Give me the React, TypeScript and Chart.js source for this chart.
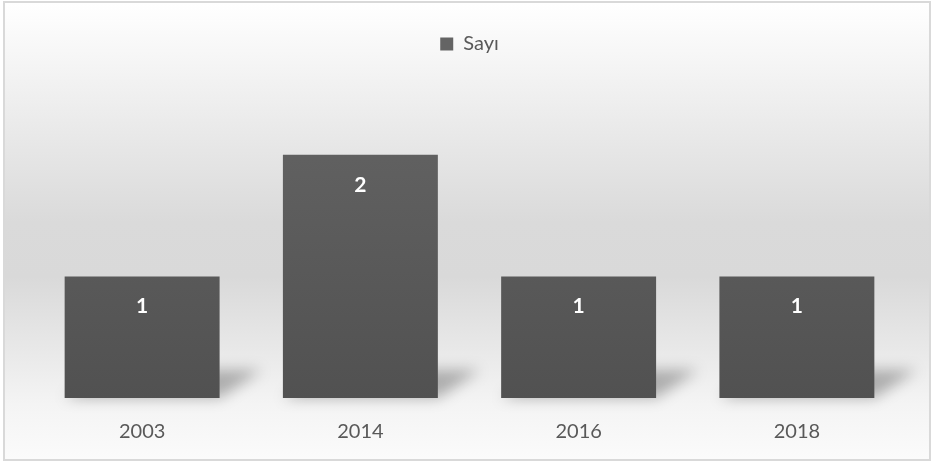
import React, { useEffect, useRef } from "react";
import { Chart, registerables } from "chart.js";

Chart.register(...registerables);

const categories = ["2003", "2014", "2016", "2018"];
const seriesName = "Sayı";
const values = [1, 2, 1, 1];

const FONT = "Lato, 'Open Sans', sans-serif";

const backgroundPlugin = {
  id: "bgPlugin",
  beforeDraw(chart: any) {
    const { ctx, width, height } = chart;
    ctx.save();
    const g = ctx.createLinearGradient(0, 3, 0, height - 3);
    g.addColorStop(0, "#ffffff");
    g.addColorStop(0.48, "#dadada");
    g.addColorStop(0.6, "#d9d9d9");
    g.addColorStop(0.88, "#f4f4f4");
    g.addColorStop(1, "#fbfbfb");
    ctx.fillStyle = g;
    ctx.fillRect(4, 3, width - 6, height - 6);
    ctx.strokeStyle = "#d9d9d9";
    ctx.lineWidth = 2;
    ctx.strokeRect(4, 2, width - 5, height - 4);
    ctx.restore();
  },
};

const legendGapPlugin = {
  id: "legendGap",
  beforeUpdate(chart: any) {
    const lg = chart.legend;
    if (lg && !lg.__patched) {
      const orig = lg.fit;
      lg.fit = function () {
        orig.call(this);
        this.height += 30;
      };
      lg.__patched = true;
    }
  },
};

const shadowPlugin = {
  id: "barShadow",
  beforeDatasetsDraw(chart: any) {
    const { ctx } = chart;
    const meta = chart.getDatasetMeta(0);
    ctx.save();
    ctx.filter = "blur(7px)";
    ctx.fillStyle = "rgba(0,0,0,0.28)";
    meta.data.forEach((bar: any) => {
      const half = bar.width / 2;
      const l = bar.x - half;
      const r = bar.x + half;
      const b = bar.base;
      ctx.beginPath();
      ctx.moveTo(l, b);
      ctx.lineTo(r, b);
      ctx.lineTo(r + 42, b - 28);
      ctx.lineTo(l + 42, b - 28);
      ctx.closePath();
      ctx.fill();
    });
    ctx.restore();
  },
};

const labelPlugin = {
  id: "dataLabels",
  afterDatasetsDraw(chart: any) {
    const { ctx } = chart;
    const meta = chart.getDatasetMeta(0);
    ctx.save();
    ctx.fillStyle = "#ffffff";
    ctx.font = `bold 21px ${FONT}`;
    ctx.textAlign = "center";
    ctx.textBaseline = "middle";
    meta.data.forEach((bar: any, i: number) => {
      ctx.fillText(String(values[i]), bar.x, bar.y + 30);
    });
    ctx.restore();
  },
};

export default function App() {
  const ref = useRef<HTMLCanvasElement | null>(null);
  useEffect(() => {
    if (!ref.current) return;
    const chart = new Chart(ref.current, {
      type: "bar",
      data: {
        labels: categories,
        datasets: [
          {
            label: seriesName,
            data: values,
            backgroundColor: (c: any) => {
              const area = c.chart.chartArea;
              if (!area) return "#585858";
              const g = c.chart.ctx.createLinearGradient(0, area.top, 0, area.bottom);
              g.addColorStop(0, "#646464");
              g.addColorStop(1, "#515151");
              return g;
            },
            borderWidth: 0,
            categoryPercentage: 1,
            barPercentage: 0.71,
          },
        ],
      },
      options: {
        animation: false,
        responsive: false,
        maintainAspectRatio: false,
        layout: { padding: { top: 24, left: 33, right: 25, bottom: 0 } },
        plugins: {
          legend: {
            display: true,
            position: "top",
            labels: {
              boxWidth: 13,
              boxHeight: 13,
              padding: 10,
              color: "#595959",
              font: { family: FONT, size: 20 },
            },
          },
          tooltip: { enabled: false },
        },
        scales: {
          x: {
            grid: { display: false, drawTicks: false },
            border: { display: false },
            ticks: {
              color: "#595959",
              font: { family: FONT, size: 20 },
              padding: 22,
            },
            afterFit: (s: any) => {
              s.height = 64;
            },
          },
          y: {
            display: false,
            min: 0,
            max: 2.5,
          },
        },
      },
      plugins: [backgroundPlugin, legendGapPlugin, shadowPlugin, labelPlugin],
    });
    return () => chart.destroy();
  }, []);
  return (
    <div style={{ position: "fixed", left: 0, top: 0, width: 931, height: 462 }}>
      <canvas ref={ref} width={931} height={462} style={{ width: 931, height: 462 }} />
    </div>
  );
}
